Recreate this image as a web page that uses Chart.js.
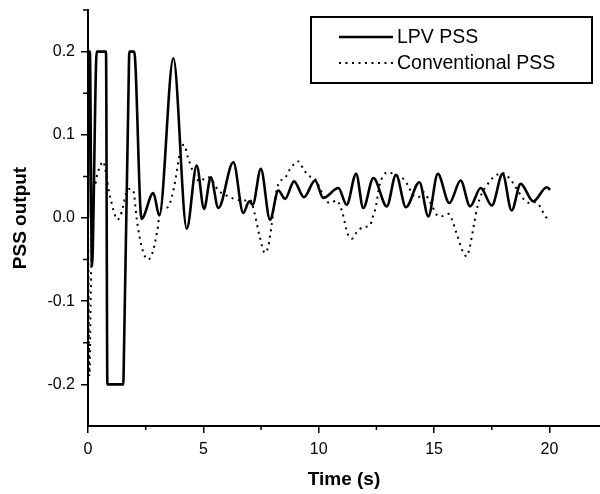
<!DOCTYPE html>
<html>
<head>
<meta charset="utf-8">
<script src="https://cdn.jsdelivr.net/npm/chart.js@4.4.1/dist/chart.umd.min.js"></script>
<style>
  html, body { margin: 0; padding: 0; background: #fff; }
  canvas { display: block; }
</style>
</head>
<body>
<canvas id="pssChart" width="600" height="494"></canvas>
<script>
// LPV PSS output (s, pu)
const lpvTime = [0, 0.03, 0.08, 0.17, 0.38, 0.78, 0.84, 1.53, 1.56, 1.76, 1.79, 2.0, 2.32, 2.83, 3.09, 3.7, 4.28,
  4.71, 5.03, 5.32, 5.65, 6.3, 6.73, 6.99, 7.14, 7.49, 7.89, 8.25, 8.54, 8.93, 9.36, 9.84, 10.2, 10.85,
  11.21, 11.62, 11.93, 12.37, 12.95, 13.35, 13.78, 14.36, 14.75, 15.16, 15.66, 16.15, 16.56, 17.02,
  17.5, 17.97, 18.36, 18.75, 19.3, 19.88, 20.03];
const lpvOutput = [0, 0.2, 0.2, -0.058, 0.2, 0.2, -0.2, -0.2, -0.16, 0.16, 0.2, 0.2, -0.001, 0.03, 0.003, 0.192, -0.013,
  0.063, 0.011, 0.049, 0.012, 0.067, 0.006, 0.020, 0.016, 0.059, -0.002, 0.033, 0.023, 0.044, 0.025, 0.045, 0.024, 0.036,
  0.016, 0.053, 0.012, 0.048, 0.014, 0.052, 0.013, 0.043, 0.002, 0.053, 0.018, 0.045, 0.014, 0.036,
  0.015, 0.053, 0.009, 0.041, 0.020, 0.037, 0.034];

// conventional PSS output
const convTime = [0, 0.06, 0.13, 0.22, 0.33, 0.43, 0.55, 0.66, 0.72, 0.91, 1.05, 1.16, 1.27, 1.41, 1.5, 1.68, 1.82,
  1.97, 2.11, 2.33, 2.6, 2.79, 3.0, 3.15, 3.35, 3.51, 3.73, 4.02, 4.16, 4.33, 4.57, 4.85, 5.14, 5.3, 5.65,
  6.01, 6.45, 6.8, 7.02, 7.2, 7.43, 7.67, 7.82, 7.95, 8.08, 8.25, 8.54, 8.76, 9.12, 9.33, 9.55, 9.84, 10.06,
  10.27, 10.49, 10.78, 10.92, 11.04, 11.24, 11.43, 11.65, 11.93, 12.22, 12.34, 12.48, 12.63, 12.8, 13.02,
  13.35, 13.67, 13.89, 14.1, 14.32, 14.54, 14.75, 14.94, 15.11, 15.33, 15.62, 15.76, 15.98, 16.27, 16.41,
  16.53, 16.74, 16.88, 17.06, 17.28, 17.57, 17.97, 18.29, 18.58, 18.87, 19.16, 19.38, 19.59, 19.74, 19.95];
const convOutput = [0, -0.19, -0.07, 0.02, 0.043, 0.055, 0.064, 0.068, 0.063, 0.032, 0.015, 0.004, -0.002, 0.003, 0.012, 0.032, 0.035,
  0.032, -0.001, -0.035, -0.05, -0.042, -0.016, 0.011, 0.012, 0.015, 0.037, 0.083, 0.088, 0.073, 0.055, 0.044, 0.049, 0.048, 0.033,
  0.027, 0.022, 0.021, 0.022, 0.008, -0.021, -0.042, -0.033, -0.01, 0.018, 0.041, 0.048, 0.059, 0.068, 0.059, 0.051, 0.047, 0.035,
  0.023, 0.018, 0.021, 0.015, 0.005, -0.018, -0.025, -0.017, -0.011, -0.009, 0.001, 0.014, 0.039, 0.051, 0.055,
  0.051, 0.047, 0.038, 0.027, 0.025, 0.031, 0.023, 0.013, 0.004, 0.002, 0.005, -0.001, -0.019, -0.042, -0.046,
  -0.037, -0.006, 0.014, 0.029, 0.039, 0.049, 0.054, 0.047, 0.035, 0.023, 0.018, 0.019, 0.014, 0.006, -0.003];

const timeTicks = [0, 5, 10, 15, 20];
const timeMinorTicks = [2.5, 7.5, 12.5, 17.5];
const outputTicks = [-0.2, -0.1, 0, 0.1, 0.2];
const outputMinorTicks = [-0.15, -0.05, 0.05, 0.15, 0.25];

const fontFamily = '"Liberation Sans", Arial, Helvetica, sans-serif';

function toPoints(xs, ys) {
  return xs.map((x, i) => ({ x: x, y: ys[i] }));
}

// short unlabelled ticks between the numbered ones
const minorTicks = {
  id: 'minorTicks',
  afterDraw(chart) {
    const ctx = chart.ctx;
    const xs = chart.scales.x;
    const ys = chart.scales.y;
    ctx.save();
    ctx.strokeStyle = '#000';
    ctx.lineWidth = 1.5;
    ctx.beginPath();
    timeMinorTicks.forEach(v => {
      const px = xs.getPixelForValue(v);
      ctx.moveTo(px, xs.top);
      ctx.lineTo(px, xs.top + 4);
    });
    outputMinorTicks.forEach(v => {
      const py = ys.getPixelForValue(v);
      ctx.moveTo(ys.right - 5, py);
      ctx.lineTo(ys.right, py);
    });
    ctx.stroke();
    ctx.restore();
  }
};

// framed legend in the upper right corner
const boxLegend = {
  id: 'boxLegend',
  afterDraw(chart) {
    const ctx = chart.ctx;
    const left = 311, top = 17, width = 281, height = 66;
    ctx.save();
    ctx.fillStyle = '#fff';
    ctx.fillRect(left, top, width, height);
    ctx.strokeStyle = '#000';
    ctx.lineWidth = 2;
    ctx.strokeRect(left, top, width, height);
    ctx.font = '19.5px ' + fontFamily;
    ctx.textBaseline = 'middle';
    chart.data.datasets.forEach((ds, i) => {
      const y = top + 20 + i * 26;
      ctx.beginPath();
      ctx.setLineDash(ds.borderDash || []);
      ctx.lineWidth = ds.borderWidth;
      ctx.moveTo(339, y);
      ctx.lineTo(393, y);
      ctx.stroke();
      ctx.setLineDash([]);
      ctx.fillStyle = '#000';
      ctx.fillText(ds.label, 397, y + 1);
    });
    ctx.restore();
  }
};

new Chart(document.getElementById('pssChart'), {
  type: 'line',
  data: {
    datasets: [{
      label: 'LPV PSS',
      data: toPoints(lpvTime, lpvOutput),
      borderColor: '#000',
      borderWidth: 2.6,
      pointRadius: 0,
      cubicInterpolationMode: 'monotone'
    }, {
      label: 'Conventional PSS',
      data: toPoints(convTime, convOutput),
      borderColor: '#000',
      borderWidth: 2,
      borderDash: [2, 4.5],
      pointRadius: 0,
      cubicInterpolationMode: 'monotone'
    }]
  },
  options: {
    responsive: false,
    animation: false,
    layout: { padding: { top: 10, right: 0, left: 0, bottom: 0 } },
    plugins: {
      legend: { display: false },
      tooltip: { enabled: false }
    },
    scales: {
      x: {
        type: 'linear',
        min: 0,
        max: 22.19,
        afterBuildTicks: axis => { axis.ticks = timeTicks.map(v => ({ value: v })); },
        afterFit: axis => {
          axis.height = 68;
          axis.paddingLeft = 0;
          axis.paddingRight = 0;
        },
        border: { display: true, color: '#000', width: 2 },
        grid: { drawOnChartArea: false, drawTicks: true, tickLength: 7, color: '#000', lineWidth: 1.5 },
        ticks: {
          color: '#000',
          padding: 7,
          maxRotation: 0,
          font: { family: fontFamily, size: 16 },
          callback: v => String(v)
        },
        title: {
          display: true,
          text: 'Time (s)',
          color: '#000',
          font: { family: fontFamily, size: 19, weight: 'bold' },
          padding: { top: 0, bottom: 3 }
        }
      },
      y: {
        min: -0.25,
        max: 0.25,
        afterBuildTicks: axis => { axis.ticks = outputTicks.map(v => ({ value: v })); },
        afterFit: axis => {
          axis.width = 88;
          axis.paddingTop = 0;
          axis.paddingBottom = 0;
        },
        border: { display: true, color: '#000', width: 2 },
        grid: { drawOnChartArea: false, drawTicks: true, tickLength: 7, color: '#000', lineWidth: 1.5 },
        ticks: {
          color: '#000',
          padding: 6,
          font: { family: fontFamily, size: 16 },
          callback: v => v.toFixed(1)
        },
        title: {
          display: true,
          text: 'PSS output',
          color: '#000',
          font: { family: fontFamily, size: 19, weight: 'bold' },
          padding: { top: 9, bottom: 0 }
        }
      }
    }
  },
  plugins: [minorTicks, boxLegend]
});
</script>
</body>
</html>
